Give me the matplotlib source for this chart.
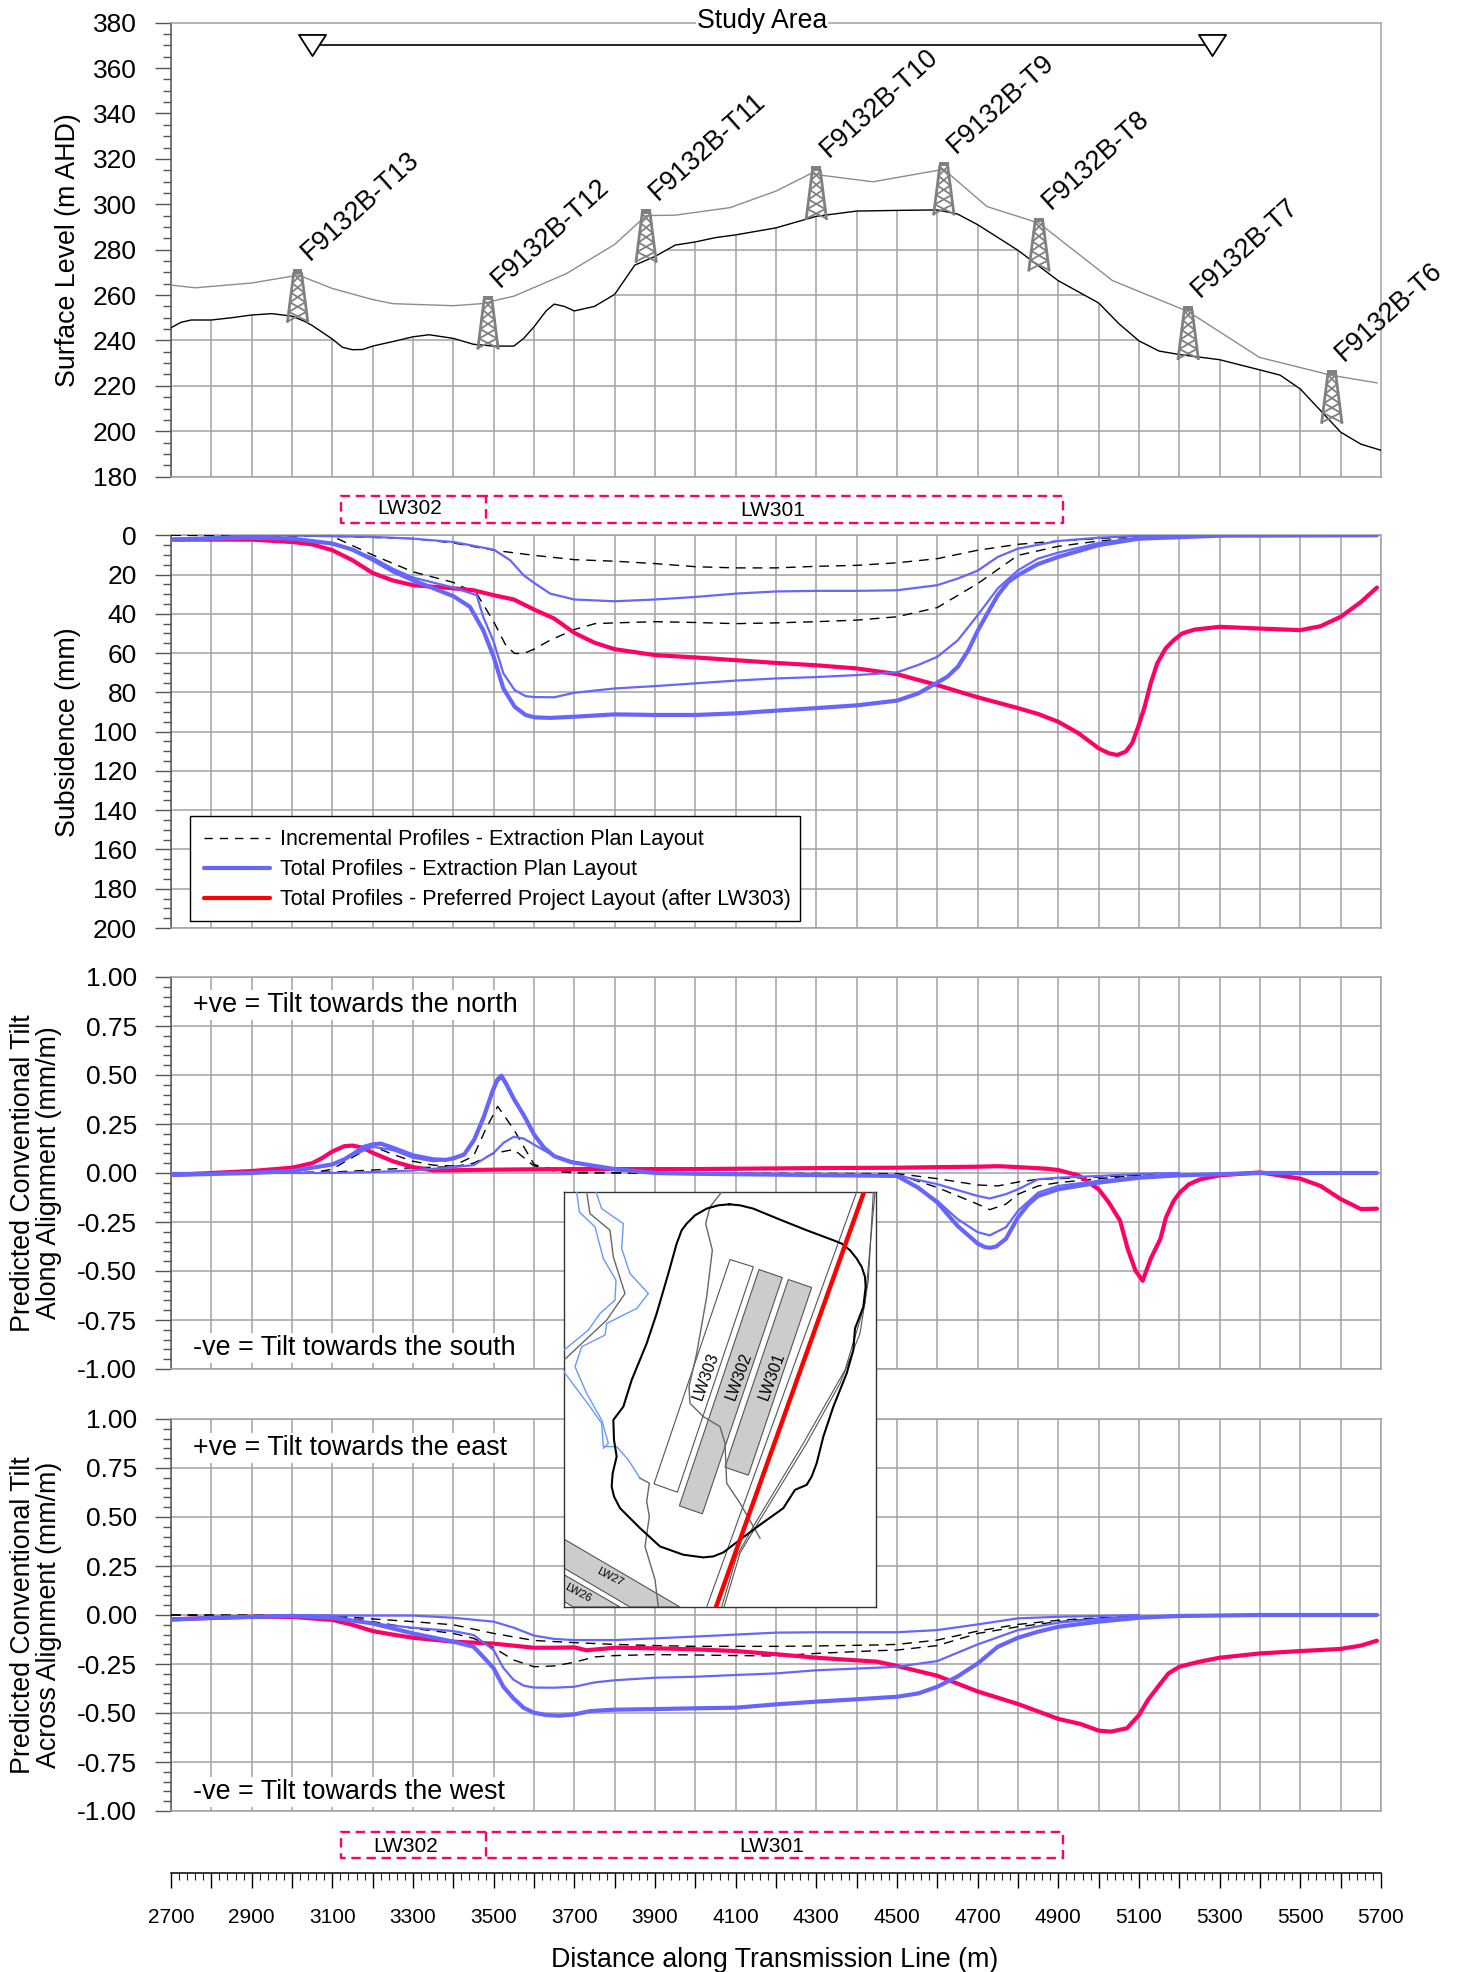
import matplotlib
matplotlib.use('Agg')
import matplotlib.pyplot as plt
import numpy as np
from matplotlib.patches import Polygon, Rectangle
from matplotlib.lines import Line2D
from matplotlib.path import Path
from matplotlib.ticker import MultipleLocator, FuncFormatter, NullFormatter

plt.rcParams['font.family'] = ['Liberation Sans', 'DejaVu Sans']

W, H = 1457, 1972
BLUE = '#6666FF'
RED = '#FF0066'
GRID = '#a2a2a2'
DARK = '#555555'

# ---------- Panel 1: surface level ----------
ground_x = [2700,2725,2750,2800,2850,2900,2950,3000,3030,3050,3100,3125,3150,3175,3200,3250,3300,3340,3400,3450,3500,3550,3575,3600,3630,3650,3675,3700,3750,3800,3850,3900,3950,4000,4050,4100,4200,4300,4400,4500,4600,4650,4700,4800,4850,4900,5000,5050,5100,5150,5200,5300,5400,5450,5500,5600,5650,5700]
ground_y = [245.6,248,249,249,250,251.2,251.8,250.7,248.5,246.6,240.6,237,235.9,236,237.5,239.5,241.6,242.5,240.9,238.3,237.5,237.5,241,246,253,256,255,253,255,260.3,273.2,277,282,283.4,285.3,286.5,289.6,294.7,297,297.3,297.5,295.7,291,279.7,273,266.3,256.5,247.4,239.8,235.3,233.8,231.5,227,224.7,218.6,199.6,194.3,191.6]
wire_x = [2700,2760,2900,3000,3014,3100,3200,3250,3400,3470,3550,3680,3800,3878,3950,4086,4200,4285,4440,4616,4723,4852,5034,5222,5399,5578,5690]
wire_y = [264.4,263.2,265.3,268.3,268.9,262.9,258,256.2,255.3,256.2,259.5,269.4,282.3,295,295.2,298.5,305.8,313.4,309.9,315.4,299,291.7,266.4,252.7,232.5,224.6,221.3]
tower_names = ['F9132B-T13','F9132B-T12','F9132B-T11','F9132B-T10','F9132B-T9','F9132B-T8','F9132B-T7','F9132B-T6']
tower_x = [3014,3486,3878,4300,4616,4852,5222,5578]
tower_top = [271.4,259.6,297.8,316.7,318.7,294,255,226.9]
study_x = [3050,5281]
study_y = [370,370]

# ---------- Panel 2: subsidence ----------
sub_red_x = [2700,2900,3000,3050,3100,3150,3200,3250,3300,3400,3450,3500,3550,3600,3650,3700,3750,3800,3900,4000,4100,4200,4300,4400,4500,4600,4700,4800,4850,4900,4950,5000,5025,5046,5067,5083,5098,5114,5129,5145,5166,5186,5207,5238,5300,5400,5500,5550,5600,5650,5690]
sub_red_y = [2.2,2.2,3.4,4.6,7.6,12.7,19.2,23,25.4,27,28,30.5,32.7,37.8,42.4,49.7,54.7,58,61,62.2,63.6,65,66.2,67.8,70.7,76.3,82.5,88,91,95,100.8,108.5,111,111.9,110.2,105.9,97.5,87.3,75.4,65.3,57.6,53.4,50,48,46.6,47.5,48.3,46.3,41.5,34,26.6]
sub_thick_x = [2700,2900,3000,3100,3150,3200,3250,3300,3400,3441,3474,3500,3524,3552,3579,3601,3640,3700,3800,3900,4000,4100,4200,4300,4400,4500,4553,4600,4625,4651,4677,4700,4724,4750,4776,4800,4849,4900,5000,5100,5300,5690]
sub_thick_y = [2.2,1.2,1.7,4.2,7.3,12.4,18.3,22.9,31,36.4,48.3,61.9,78,87.3,91.5,92.7,93,92.4,91.2,91.5,91.5,90.7,89.3,88,86.6,84.2,80.5,75,72,66.9,58.5,48.6,39.8,30.5,23.7,20.3,14.7,11,5,1.7,0.2,0]
sub_thin_lower_x = [2700,2900,3000,3100,3200,3250,3300,3400,3458,3474,3500,3524,3552,3579,3601,3650,3700,3800,3900,4000,4100,4200,4300,4400,4500,4553,4600,4651,4700,4750,4800,4849,4900,5000,5100,5300]
sub_thin_lower_y = [2.2,1.2,1.6,3.9,11.4,17,21.5,26.6,30.5,41.5,54.2,70.3,78.8,81.9,82.4,82.5,80.2,78,76.8,75.4,74,72.9,72.2,71.2,69.8,66,61.9,53.4,40.7,27,17.8,11.9,8.8,3.9,1.2,0.2]
sub_thin_upper_x = [2700,2900,3000,3100,3200,3300,3400,3500,3541,3574,3600,3640,3700,3800,3900,4000,4100,4200,4300,4400,4500,4600,4651,4700,4750,4800,4900,5000,5100,5200]
sub_thin_upper_y = [2,0,0.1,0.5,0.8,1.7,3.4,7.3,12.7,20.3,24.2,29.7,32.7,33.6,32.7,31.4,29.7,28.6,28.3,28.3,28,25.4,22,18,11,6.8,2.9,1.2,0.3,0.1]
sub_inc_a_x = [2700,3100,3300,3400,3500,3600,3700,3800,3900,4000,4100,4200,4300,4400,4500,4600,4700,4800,4900,5000,5100,5200]
sub_inc_a_y = [0,0.5,1.7,3.9,7.6,10.2,12.4,13.2,14.4,16,16.6,16.6,15.8,15.3,14,11.9,7.6,4.6,2.9,1.7,0.5,0]
sub_inc_b_x = [2700,3000,3100,3200,3300,3400,3458,3500,3530,3552,3574,3600,3640,3700,3751,3800,3900,4000,4100,4200,4300,4400,4500,4600,4700,4800,4900,5000,5100,5200]
sub_inc_b_y = [0,0.2,0.5,10,18.6,24,29.7,44,56,60.2,60.2,58,53.4,48,45,44.6,44,44.4,45,44.6,44,43.2,41.5,36.8,24.6,10.2,5.6,2.9,1.2,0.2]

# ---------- Panel 3: tilt along alignment ----------
al_red_x = [2700,2900,3000,3050,3076,3100,3130,3150,3175,3200,3250,3300,3350,3400,3500,3600,3700,4000,4300,4500,4600,4700,4750,4800,4870,4900,4950,5000,5025,5053,5072,5091,5109,5129,5153,5167,5186,5201,5224,5252,5300,5400,5500,5550,5600,5650,5690]
al_red_y = [-0.01,0.01,0.027,0.05,0.078,0.11,0.137,0.14,0.129,0.103,0.06,0.03,0.013,0.014,0.017,0.019,0.02,0.02,0.025,0.027,0.03,0.032,0.035,0.03,0.022,0.015,-0.012,-0.083,-0.15,-0.243,-0.387,-0.497,-0.55,-0.4375,-0.336,-0.226,-0.142,-0.1,-0.057,-0.032,-0.012,0.003,-0.029,-0.066,-0.133,-0.184,-0.182]
al_thick_x = [2700,2800,2900,3000,3050,3100,3130,3150,3179,3200,3220,3250,3300,3350,3381,3400,3427,3452,3476,3497,3509,3519,3530,3551,3576,3600,3625,3650,3691,3800,3900,4000,4500,4552,4600,4650,4700,4718,4730,4746,4770,4800,4826,4850,4900,5000,5100,5200,5400,5690]
al_thick_y = [-0.01,-0.005,0,0.01,0.027,0.044,0.07,0.095,0.134,0.146,0.15,0.129,0.09,0.07,0.067,0.075,0.095,0.171,0.29,0.417,0.476,0.497,0.459,0.375,0.29,0.197,0.129,0.086,0.056,0.02,0,-0.004,-0.015,-0.074,-0.15,-0.27,-0.36,-0.378,-0.382,-0.375,-0.336,-0.226,-0.159,-0.117,-0.083,-0.049,-0.024,-0.012,0,0]
al_thin_lower_x = [2700,2900,3000,3100,3150,3200,3250,3300,3350,3400,3427,3452,3476,3497,3509,3519,3530,3551,3576,3600,3625,3650,3700,3800,3900,4000,4500,4600,4650,4700,4730,4770,4800,4850,4900,5000,5100,5200,5300]
al_thin_lower_y = [-0.01,0,0.01,0.04,0.09,0.134,0.117,0.078,0.06,0.07,0.09,0.165,0.28,0.405,0.465,0.485,0.45,0.37,0.285,0.19,0.125,0.085,0.055,0.018,0,-0.004,-0.012,-0.142,-0.235,-0.302,-0.318,-0.277,-0.193,-0.1,-0.066,-0.04,-0.02,-0.01,-0.004]
al_thin_upper_x = [2700,3100,3200,3300,3400,3450,3500,3525,3550,3575,3600,3650,3700,3800,3900,4500,4600,4700,4730,4770,4800,4850,4900,5000,5100,5200]
al_thin_upper_y = [0,0,0.005,0.013,0.03,0.04,0.103,0.155,0.185,0.175,0.145,0.086,0.055,0.015,0,-0.012,-0.057,-0.117,-0.13,-0.108,-0.083,-0.032,-0.024,-0.015,-0.005,0]
al_inc_a_x = [2700,3050,3100,3150,3200,3250,3300,3350,3400,3450,3480,3510,3550,3600,3650,3700,3900,4500,4600,4700,4730,4770,4800,4850,4900,5000,5100,5150]
al_inc_a_y = [0,0,0.02,0.08,0.137,0.095,0.06,0.04,0.036,0.086,0.222,0.34,0.222,0.044,0.01,0,0,-0.007,-0.074,-0.159,-0.187,-0.159,-0.108,-0.066,-0.049,-0.029,-0.012,0]
al_inc_b_x = [2700,3100,3200,3300,3400,3450,3500,3550,3600,3650,3700,3900,4500,4600,4700,4750,4800,4850,4900,5000,5100,5200]
al_inc_b_y = [0,0.005,0.015,0.027,0.032,0.05,0.1,0.12,0.036,0.022,0.004,0,-0.003,-0.029,-0.061,-0.066,-0.046,-0.032,-0.029,-0.02,-0.012,0]

# ---------- Panel 4: tilt across alignment ----------
ac_red_x = [2700,2900,3000,3100,3150,3200,3250,3300,3400,3500,3600,3650,3700,3730,3800,3900,4000,4100,4200,4300,4450,4500,4600,4700,4800,4900,4955,5000,5030,5070,5100,5122,5147,5173,5200,5250,5300,5400,5500,5600,5650,5690]
ac_red_y = [-0.022,-0.009,-0.01,-0.025,-0.05,-0.082,-0.1,-0.116,-0.136,-0.146,-0.167,-0.167,-0.165,-0.18,-0.167,-0.17,-0.175,-0.184,-0.2,-0.218,-0.238,-0.26,-0.31,-0.39,-0.454,-0.53,-0.556,-0.59,-0.595,-0.578,-0.51,-0.434,-0.366,-0.298,-0.264,-0.238,-0.218,-0.196,-0.184,-0.173,-0.156,-0.131]
ac_thick_x = [2700,2800,2900,3000,3100,3200,3300,3400,3450,3474,3500,3524,3549,3574,3599,3629,3662,3700,3740,3800,3900,4000,4100,4200,4300,4400,4500,4553,4600,4649,4700,4750,4800,4850,4900,5000,5100,5200,5400,5690]
ac_thick_y = [-0.024,-0.014,-0.01,-0.005,-0.014,-0.043,-0.094,-0.136,-0.162,-0.213,-0.272,-0.366,-0.425,-0.473,-0.498,-0.51,-0.514,-0.507,-0.49,-0.483,-0.48,-0.476,-0.473,-0.456,-0.442,-0.43,-0.417,-0.4,-0.366,-0.315,-0.247,-0.162,-0.116,-0.085,-0.06,-0.034,-0.014,-0.005,0,0]
ac_thin_lower_x = [2700,2800,2900,3000,3100,3200,3300,3400,3450,3500,3524,3549,3574,3599,3650,3700,3750,3800,3900,4000,4100,4200,4300,4450,4500,4600,4700,4800,4900,5000,5100,5200,5400]
ac_thin_lower_y = [-0.024,-0.014,-0.01,-0.005,-0.014,-0.043,-0.065,-0.082,-0.102,-0.179,-0.27,-0.33,-0.36,-0.37,-0.371,-0.366,-0.344,-0.333,-0.32,-0.315,-0.306,-0.298,-0.282,-0.269,-0.264,-0.235,-0.15,-0.077,-0.039,-0.02,-0.009,-0.003,0]
ac_thin_upper_x = [2700,2900,3000,3100,3200,3300,3400,3500,3550,3600,3650,3700,3800,3900,4000,4100,4200,4300,4450,4500,4600,4700,4800,4900,5000,5100]
ac_thin_upper_y = [-0.024,-0.008,0,-0.003,-0.003,-0.003,-0.014,-0.034,-0.065,-0.105,-0.122,-0.128,-0.128,-0.119,-0.11,-0.1,-0.09,-0.088,-0.088,-0.088,-0.077,-0.048,-0.017,-0.009,-0.005,0]
ac_inc_a_x = [2700,3100,3200,3300,3400,3500,3600,3700,3800,3900,4000,4100,4200,4300,4450,4500,4600,4700,4800,4900,5000,5100]
ac_inc_a_y = [0,-0.003,-0.02,-0.034,-0.05,-0.094,-0.13,-0.141,-0.15,-0.156,-0.16,-0.16,-0.16,-0.158,-0.153,-0.15,-0.128,-0.082,-0.048,-0.027,-0.014,-0.007]
ac_inc_b_x = [2700,3100,3200,3300,3400,3450,3500,3550,3600,3650,3700,3750,3800,3900,4000,4100,4200,4300,4450,4500,4600,4700,4800,4900,5000,5100]
ac_inc_b_y = [0,-0.003,-0.034,-0.068,-0.094,-0.119,-0.167,-0.23,-0.264,-0.26,-0.241,-0.214,-0.207,-0.202,-0.204,-0.207,-0.209,-0.196,-0.182,-0.179,-0.156,-0.094,-0.06,-0.034,-0.017,-0.007]

lw_edges = [3122, 3481, 4912]
lw_names = ['LW302', 'LW301']
x_ticks = list(range(2700, 5701, 200))
legend_labels = ['Incremental Profiles - Extraction Plan Layout',
                 'Total Profiles - Extraction Plan Layout',
                 'Total Profiles - Preferred Project Layout (after LW303)']

fig = plt.figure(figsize=(W/100, H/100), dpi=100, facecolor='white')

L, R = 171, 1381
def make_ax(top, bot, ylim, major, minor, fmt=None):
    ax = fig.add_axes([L/W, 1-bot/H, (R-L)/W, (bot-top)/H])
    ax.set_xlim(2700, 5700)
    ax.set_ylim(*ylim)
    ax.xaxis.set_major_locator(MultipleLocator(100))
    ax.xaxis.set_major_formatter(NullFormatter())
    ax.yaxis.set_major_locator(MultipleLocator(major))
    ax.yaxis.set_minor_locator(MultipleLocator(minor))
    if fmt:
        ax.yaxis.set_major_formatter(FuncFormatter(fmt))
    ax.grid(True, which='major', color=GRID, lw=1.1, zorder=1)
    ax.set_axisbelow(True)
    ax.tick_params(axis='x', length=0)
    ax.tick_params(axis='y', which='major', length=11.5, width=1.0, color=DARK, labelsize=19, pad=13, labelcolor='black')
    ax.tick_params(axis='y', which='minor', length=6, width=1.0, color=DARK)
    for s in ['top', 'right', 'bottom']:
        ax.spines[s].set_color(GRID)
        ax.spines[s].set_linewidth(1.1)
    ax.spines['left'].set_color(DARK)
    ax.spines['left'].set_linewidth(1.1)
    return ax

def ylabel(ax, text, px_x, frac_y, **kw):
    ax.set_ylabel(text, fontsize=19.3, **kw)
    ax.yaxis.label.set_va('center')
    ax.yaxis.label.set_rotation_mode('anchor')
    ax.yaxis.set_label_coords((px_x-L)/(R-L), frac_y)

def curves(ax, dashed, red, thin, thick):
    for (x, y) in dashed:
        ax.plot(x, y, color='black', lw=1.0, dashes=(7, 5), zorder=3)
    ax.plot(red[0], red[1], color=RED, lw=3.0, zorder=4, solid_capstyle='round', solid_joinstyle='round')
    for (x, y) in thin:
        ax.plot(x, y, color=BLUE, lw=1.6, zorder=5, solid_joinstyle='round')
    ax.plot(thick[0], thick[1], color=BLUE, lw=3.0, zorder=6, solid_capstyle='round', solid_joinstyle='round')

# Panel 1
ax1 = make_ax(22.7, 476.6, (180, 380), 20, 5)
ax1.fill_between(ground_x, ground_y, 380, color='white', lw=0, zorder=1.5)
ax1.plot(wire_x, wire_y, color='#8c8c8c', lw=1.0, zorder=3)
ax1.plot(ground_x, ground_y, color='black', lw=1.0, zorder=3)
T_H, T_BW, T_TW = 23.0, 50.0, 20.0
for name, tx, tt in zip(tower_names, tower_x, tower_top):
    base = tt - T_H
    cap = tt - 2
    ax1.add_patch(Rectangle((tx-12, cap), 24, 2, color='#808080', lw=0, zorder=4))
    ax1.plot([tx-T_TW/2, tx-T_BW/2], [cap, base], color='#808080', lw=2.0, zorder=4)
    ax1.plot([tx+T_TW/2, tx+T_BW/2], [cap, base], color='#808080', lw=2.0, zorder=4)
    n = 5
    for i in range(n):
        f0, f1 = i/n, (i+1)/n
        w0 = T_TW + (T_BW-T_TW)*f0
        w1 = T_TW + (T_BW-T_TW)*f1
        y0 = cap + (base-cap)*f0
        y1 = cap + (base-cap)*f1
        ax1.plot([tx-w0/2, tx+w1/2], [y0, y1], color='#808080', lw=1.3, zorder=4)
        ax1.plot([tx+w0/2, tx-w1/2], [y0, y1], color='#808080', lw=1.3, zorder=4)
    ax1.annotate(name, (tx, tt), xytext=(11.5, 2.5), textcoords='offset points', rotation=42,
                 rotation_mode='anchor', ha='left', va='bottom', fontsize=19.3, zorder=7, annotation_clip=False)
ax1.plot(study_x, study_y, color='black', lw=1.2, zorder=4)
tri = Path([(-1, 0.78), (1, 0.78), (0, -0.78), (-1, 0.78)], closed=True)
ax1.plot(study_x, study_y, ls='none', marker=tri, ms=19.5, mfc='white', mec='black', mew=1.3, zorder=5)
ylabel(ax1, 'Surface Level (m AHD)', 68, 0.5)
fig.text(762/W, 1-21/H, 'Study Area', fontsize=19.2, ha='center', va='center', zorder=10,
         bbox=dict(fc='white', ec='none', pad=1))

# Panel 2
ax2 = make_ax(535.3, 928, (200, 0), 20, 5)
curves(ax2, [(sub_inc_a_x, sub_inc_a_y), (sub_inc_b_x, sub_inc_b_y)], (sub_red_x, sub_red_y),
       [(sub_thin_upper_x, sub_thin_upper_y), (sub_thin_lower_x, sub_thin_lower_y)], (sub_thick_x, sub_thick_y))
ylabel(ax2, 'Subsidence (mm)', 68, 1-(732-535.3)/(928-535.3))
ax2.add_patch(Rectangle((189.5/W, 1-920.7/H), (800-189.5)/W, 105/H, transform=fig.transFigure,
                        fc='white', ec='black', lw=1.0, zorder=9, clip_on=False))
hs = [Line2D([], [], color='black', lw=1.0, dashes=(6, 5)),
      Line2D([], [], color=BLUE, lw=3.0, solid_capstyle='round'),
      Line2D([], [], color='#FF0000', lw=3.0, solid_capstyle='round')]
leg = ax2.legend(hs, legend_labels, loc='upper left', bbox_to_anchor=(203.5/W, 1-829.5/H), bbox_transform=fig.transFigure,
                 borderaxespad=0, fontsize=15.5, frameon=False,
                 handlelength=3.1, handletextpad=0.47, labelspacing=0.41, borderpad=0)
leg.set_zorder(10)

# Panel 3
f2 = lambda v, p: f'{v:.2f}'
ax3 = make_ax(977, 1369, (-1, 1), 0.25, 0.05, f2)
curves(ax3, [(al_inc_a_x, al_inc_a_y), (al_inc_b_x, al_inc_b_y)], (al_red_x, al_red_y),
       [(al_thin_upper_x, al_thin_upper_y), (al_thin_lower_x, al_thin_lower_y)], (al_thick_x, al_thick_y))
ylabel(ax3, 'Predicted Conventional Tilt\nAlong Alignment (mm/m)', 36, 0.5, linespacing=1.0)

# Panel 4
ax4 = make_ax(1419, 1811, (-1, 1), 0.25, 0.05, f2)
curves(ax4, [(ac_inc_a_x, ac_inc_a_y), (ac_inc_b_x, ac_inc_b_y)], (ac_red_x, ac_red_y),
       [(ac_thin_upper_x, ac_thin_upper_y), (ac_thin_lower_x, ac_thin_lower_y)], (ac_thick_x, ac_thick_y))
ylabel(ax4, 'Predicted Conventional Tilt\nAcross Alignment (mm/m)', 36, 0.5, linespacing=1.0)

for txt, py in [('+ve = Tilt towards the north', 1005), ('-ve = Tilt towards the south', 1348),
                ('+ve = Tilt towards the east', 1448), ('-ve = Tilt towards the west', 1792)]:
    fig.text(193/W, 1-py/H, txt, fontsize=19.4, ha='left', va='center', zorder=9,
             bbox=dict(fc='white', ec='none', pad=1.5))

# Bottom ruler
axr = fig.add_axes([L/W, 1-1873/H, (R-L)/W, 0.0005])
axr.set_xlim(2700, 5700)
axr.patch.set_visible(False)
for s in ['top', 'left', 'right']:
    axr.spines[s].set_visible(False)
axr.spines['bottom'].set_color('black')
axr.spines['bottom'].set_linewidth(1.1)
axr.set_yticks([])
axr.xaxis.set_major_locator(MultipleLocator(100))
axr.xaxis.set_minor_locator(MultipleLocator(20))
axr.xaxis.set_major_formatter(FuncFormatter(lambda v, p: f'{int(round(v))}' if int(round(v)) in x_ticks else ''))
axr.tick_params(axis='x', which='major', length=11, width=1.0, labelsize=15, pad=14, color='black')
axr.tick_params(axis='x', which='minor', length=5, width=0.8, color='#222222')
fig.text(775/W, 1-1960/H, 'Distance along Transmission Line (m)', fontsize=19.3, ha='center', va='center')

# Overlay in pixel coordinates for longwall boxes
ov = fig.add_axes([0, 0, 1, 1], zorder=8)
ov.set_xlim(0, W)
ov.set_ylim(H, 0)
ov.axis('off')
ov.patch.set_visible(False)
def x2px(v):
    return L + (v-2700)*(R-L)/3000
for top, bot, ly, lx0, lx1 in [(496, 523, 508.5, 410, 773), (1832, 1858, 1846.5, 406, 772)]:
    e0, e1, e2 = [x2px(v) for v in lw_edges]
    ov.plot([e1, e0, e0, e1, e2, e2, e1, e1], [top, top, bot, bot, bot, top, top, bot], color=RED, lw=1.7, dashes=(4, 2.4))
    ov.text(lx0, ly, lw_names[0], fontsize=15, ha='center', va='center')
    ov.text(lx1, ly+2 if top < 1000 else ly, lw_names[1], fontsize=15, ha='center', va='center')

# Location plan inset (coordinates on the plan image)
ins = fig.add_axes([564/W, 1-1607/H, (876-564)/W, (1607-1192)/H], zorder=9)
ins.set_xlim(72, 1008)
ins.set_ylim(1282, 35)
ins.set_xticks([])
ins.set_yticks([])
ins.set_facecolor('white')
for s in ins.spines.values():
    s.set_color('#333333')
    s.set_linewidth(1.0)
GOAF = '#cccccc'
panel_303 = [(570,238),(640,260),(412,937),(342,912)]
panel_302 = [(657,268),(727,292),(487,1002),(418,978)]
panel_301 = [(745,298),(815,322),(625,886),(555,862)]
panel_27 = [(72,1078),(420,1282),(270,1282),(72,1165)]
panel_26 = [(72,1185),(240,1282),(100,1282),(72,1265)]
for poly, fc in [(panel_27, GOAF), (panel_26, GOAF), (panel_303, 'white'), (panel_302, GOAF), (panel_301, GOAF)]:
    ins.add_patch(Polygon(poly, closed=True, fc=fc, ec='#555555', lw=0.8, zorder=2))
def pl(pts, **kw):
    a = np.array(pts)
    ins.plot(a[:, 0], a[:, 1], **kw)
boundary = [(568,72),(600,75),(640,85),(720,118),(800,150),(880,180),(905,190),(930,210),(950,235),(965,260),(975,290),(977,320),(970,380),(945,445),(940,510),(920,580),(880,680),(850,770),(830,850),(815,890),(800,915),(765,930),(730,985),(660,1035),(600,1080),(550,1118),(520,1130),(490,1133),(430,1125),(360,1100),(300,1045),(240,985),(222,950),(215,920),(218,880),(230,830),(222,780),(220,720),(250,680),(275,600),(320,490),(350,400),(385,280),(410,190),(425,150),(440,130),(465,105),(500,85),(535,75),(568,72)]
river_a = [(110,35),(118,95),(165,140),(190,235),(228,300),(225,360),(180,400),(145,450),(72,510)]
river_b = [(168,35),(185,85),(250,130),(245,205),(270,280),(325,340),(290,385),(200,430),(195,465),(125,500),(105,560),(140,640),(185,720),(205,790),(190,805)]
river_c = [(72,575),(105,620),(150,680),(185,730),(190,800),(230,800),(265,840),(300,895)]
creek_a = [(140,35),(150,100),(210,150),(220,230),(255,340),(200,420),(72,540)]
creek_b = [(300,895),(328,910),(320,965),(328,1010),(315,1100),(345,1200),(355,1282)]
creek_c = [(545,35),(510,80),(497,130),(517,210),(500,350),(470,520),(447,620),(450,670),(490,710),(540,740),(555,790),(560,910),(600,970),(660,1075)]
road_a = [(950,35),(500,1282)]
road_b = [(1000,35),(985,300),(960,460),(900,610),(800,790),(660,1020),(600,1120),(552,1282)]
road_c = [(1005,35),(975,370),(915,570),(790,790),(640,1040),(590,1130),(545,1282)]
for r in (river_a, river_b, river_c):
    pl(r, color='#6699FF', lw=1.0, zorder=3)
for c in (creek_a, creek_b, creek_c):
    pl(c, color='#666666', lw=1.0, zorder=3)
for r in (road_a, road_b, road_c):
    pl(r, color='#555555', lw=0.8, zorder=3)
pl(boundary, color='black', lw=1.5, zorder=4)
pl([(972,35),(528,1282)], color='#FF0000', lw=3.2, zorder=5, solid_capstyle='round')
for t, x, y, rot, fs in [('LW303',497,590,70,11.5),('LW302',597,590,70,11.5),('LW301',695,590,70,11.5),
                         ('LW27',210,1193,-28,8),('LW26',113,1240,-28,8)]:
    ins.text(x, y, t, rotation=rot, fontsize=fs, ha='center', va='center', zorder=6, rotation_mode='anchor')

fig.savefig('out.png', dpi=100)
